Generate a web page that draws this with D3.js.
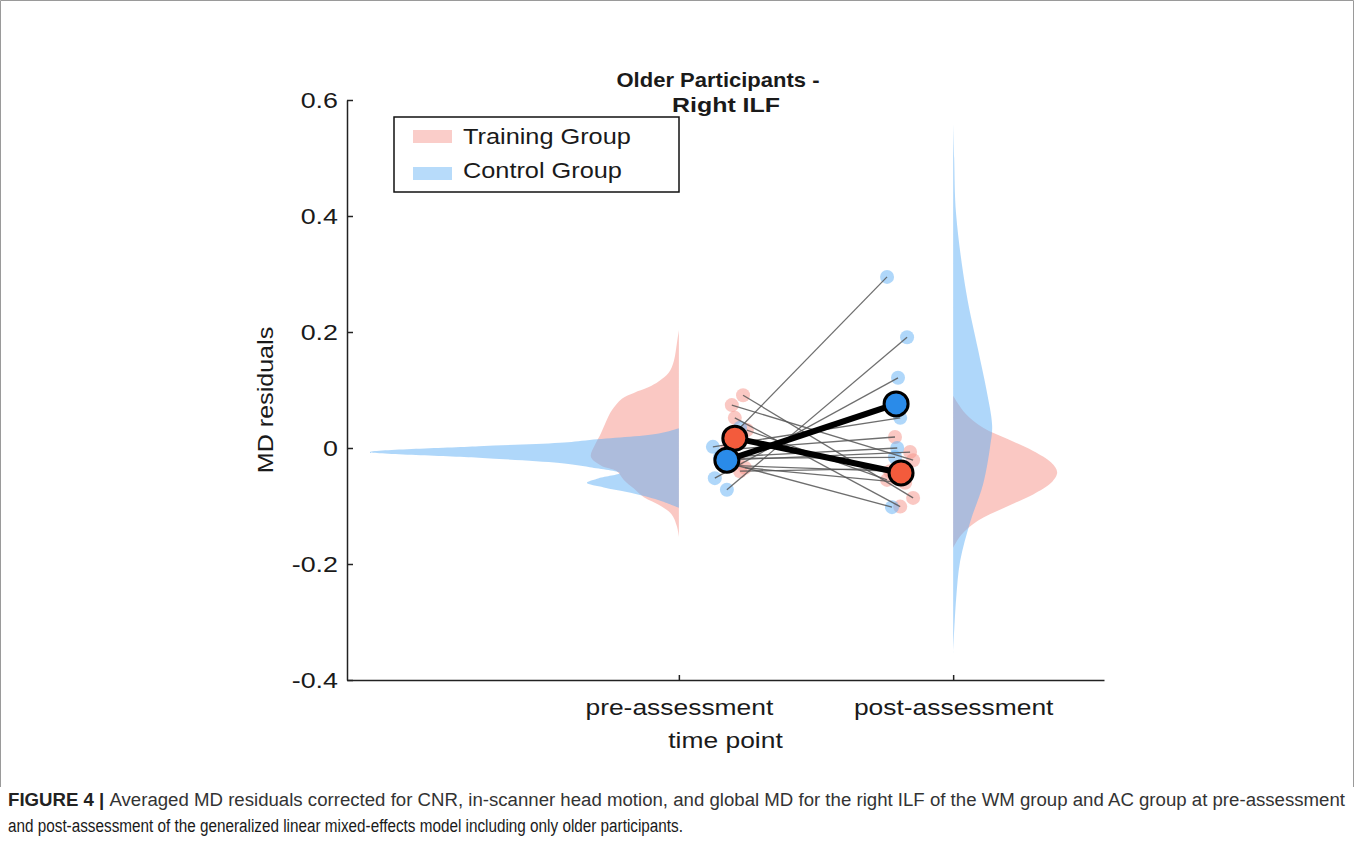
<!DOCTYPE html>
<html>
<head>
<meta charset="utf-8">
<script src="https://cdn.jsdelivr.net/npm/d3@7"></script>
<style>
  body { margin: 0; background: #fff; }
  svg { display: block; }
  text { font-family: "Liberation Sans", Arial, sans-serif; fill: #1a1a1a; }
</style>
</head>
<body>
<div id="chart"></div>
<script>
const W = 1355, H = 847;
const margin = { top: 100, right: 251, bottom: 167, left: 347 };

// time points on the x axis
const timeLabels = ["pre-assessment", "post-assessment"];
const timeX = [1, 2];

// individual subjects, training group (x = jittered position, y = MD residual)
const trainPreX  = [1.234, 1.193, 1.204, 1.248, 1.175, 1.241, 1.215, 1.186, 1.223];
const trainPre   = [0.091, 0.074, 0.052, 0.031, -0.003, -0.034, -0.020, -0.030, -0.040];
const trainPostX = [1.854, 1.854, 1.807, 1.759, 1.788, 1.825, 1.843, 1.770, 1.799];
const trainPost  = [-0.086, -0.021, -0.101, -0.055, 0.019, -0.060, -0.007, -0.040, -0.035];

// individual subjects, control group
const ctrlPreX  = [1.223, 1.175, 1.131, 1.124, 1.150, 1.179, 1.157];
const ctrlPre   = [0.035, -0.072, -0.052, 0.002, -0.016, -0.026, -0.018];
const ctrlPostX = [1.759, 1.832, 1.799, 1.807, 1.796, 1.777, 1.788];
const ctrlPost  = [0.295, 0.191, 0.121, 0.052, 0.000, -0.102, -0.016];

// group means [x, y]
const trainMean = [[1.204, 0.017], [1.810, -0.043]];
const ctrlMean  = [[1.175, -0.021], [1.792, 0.076]];

// half-violin density profiles [MD residual, density]
const trainPreDens = [[0.203,0],[0.180,0.02],[0.150,0.05],[0.130,0.10],[0.115,0.20],[0.105,0.30],
  [0.095,0.45],[0.085,0.57],[0.065,0.67],[0.045,0.73],[0.025,0.78],[0.005,0.84],[-0.015,0.88],
  [-0.030,0.78],[-0.040,0.62],[-0.055,0.55],[-0.070,0.45],[-0.085,0.35],[-0.100,0.18],
  [-0.115,0.07],[-0.135,0.02],[-0.153,0]];
const ctrlPreDens = [[0.034,0],[0.025,0.20],[0.014,0.89],[0.009,1.19],[0.003,2.00],[-0.007,3.09],
  [-0.017,2.00],[-0.026,1.19],[-0.033,0.89],[-0.043,0.59],[-0.052,0.80],[-0.060,0.92],
  [-0.068,0.75],[-0.076,0.52],[-0.090,0.20],[-0.103,0]];
const trainPostDens = [[0.090,0],[0.060,0.12],[0.035,0.30],[0.015,0.55],[-0.005,0.80],[-0.025,0.98],
  [-0.042,1.04],[-0.060,0.98],[-0.080,0.80],[-0.100,0.55],[-0.125,0.25],[-0.150,0.08],[-0.172,0]];
const ctrlPostDens = [[0.560,0],[0.500,0.01],[0.402,0.03],[0.269,0.13],[0.169,0.25],[0.103,0.33],
  [0.038,0.39],[0.003,0.37],[-0.062,0.30],[-0.128,0.17],[-0.195,0.07],[-0.260,0.03],[-0.353,0]];

const yTicks = [-0.4, -0.2, 0, 0.2, 0.4, 0.6];

const pink = "rgb(245,145,135)";
const blue = "rgb(95,175,245)";
const pinkMean = "#f35b3c";
const blueMean = "#2a8be9";

// the figure is stretched sideways, so widen text to match
function widen(sel, k) {
  sel.each(function () {
    const n = this.getComputedTextLength();
    d3.select(this).attr("textLength", n * k).attr("lengthAdjust", "spacingAndGlyphs");
  });
}

const svg = d3.select("#chart").append("svg")
  .attr("width", W).attr("height", H);

// figure frame
svg.append("path")
  .attr("d", `M0.5,787V0.5H1353.5V787`)
  .attr("fill", "none").attr("stroke", "#9a9a9a").attr("stroke-width", 1);

const x = d3.scaleLinear().domain([-0.21, 2.55]).range([margin.left, W - margin.right]);
const y = d3.scaleLinear().domain([-0.4, 0.6]).range([H - margin.bottom, margin.top]);
const dens = d3.scaleLinear().domain([0, 1]).range([0, 100]);

// half violins
function halfViolin(data, base, dir, color) {
  const area = d3.area()
    .y(d => y(d[0]))
    .x0(x(base))
    .x1(d => x(base) + dir * dens(d[1]))
    .curve(d3.curveCatmullRom);
  svg.append("path").datum(data)
    .attr("d", area)
    .attr("fill", color).attr("fill-opacity", 0.5);
}
halfViolin(trainPreDens, timeX[0], -1, pink);
halfViolin(ctrlPreDens, timeX[0], -1, blue);
halfViolin(trainPostDens, timeX[1], 1, pink);
halfViolin(ctrlPostDens, timeX[1], 1, blue);

// individual dots
function dots(xs, ys, color) {
  svg.append("g").selectAll("circle").data(ys).join("circle")
    .attr("cx", (d, i) => x(xs[i])).attr("cy", d => y(d))
    .attr("r", 7).attr("fill", color).attr("fill-opacity", 0.5);
}
dots(trainPreX, trainPre, pink);
dots(trainPostX, trainPost, pink);
dots(ctrlPreX, ctrlPre, blue);
dots(ctrlPostX, ctrlPost, blue);

// subject lines
function subjLines(x0, y0, x1, y1) {
  svg.append("g").selectAll("line").data(y0).join("line")
    .attr("x1", (d, i) => x(x0[i])).attr("y1", d => y(d))
    .attr("x2", (d, i) => x(x1[i])).attr("y2", (d, i) => y(y1[i]))
    .attr("stroke", "#555").attr("stroke-opacity", 0.85).attr("stroke-width", 1.3);
}
subjLines(trainPreX, trainPre, trainPostX, trainPost);
subjLines(ctrlPreX, ctrlPre, ctrlPostX, ctrlPost);

// mean lines and markers
const meanLine = d3.line().x(d => x(d[0])).y(d => y(d[1]));
[trainMean, ctrlMean].forEach(m => {
  svg.append("path").datum(m).attr("d", meanLine)
    .attr("fill", "none").attr("stroke", "#000").attr("stroke-width", 6);
});
[[trainMean, pinkMean], [ctrlMean, blueMean]].forEach(([m, c]) => {
  svg.append("g").selectAll("circle").data(m).join("circle")
    .attr("cx", d => x(d[0])).attr("cy", d => y(d[1]))
    .attr("r", 12).attr("fill", c)
    .attr("stroke", "#000").attr("stroke-width", 3);
});

// axes
const yAxis = svg.append("g")
  .attr("transform", `translate(${margin.left},0)`)
  .call(d3.axisLeft(y).tickValues(yTicks).tickSizeInner(-6).tickSizeOuter(0)
    .tickPadding(9).tickFormat(d => d === 0 ? "0" : d.toFixed(1)));
yAxis.select(".domain").attr("stroke", "#222").attr("stroke-width", 1.5);
yAxis.selectAll(".tick line").attr("stroke", "#222").attr("stroke-width", 1.5);
yAxis.selectAll(".tick text").style("font-size", "22px").attr("fill", "#1a1a1a").call(widen, 1.22);

const xAxis = svg.append("g")
  .attr("transform", `translate(0,${H - margin.bottom})`)
  .call(d3.axisBottom(x).tickValues(timeX).tickSizeInner(-5).tickSizeOuter(0)
    .tickPadding(19).tickFormat((d, i) => timeLabels[i]));
xAxis.select(".domain").attr("stroke", "#222").attr("stroke-width", 1.5);
xAxis.selectAll(".tick line").attr("stroke", "#222").attr("stroke-width", 1.5);
xAxis.selectAll(".tick text").style("font-size", "22px").attr("fill", "#1a1a1a").call(widen, 1.2);

// axis labels
const cx = (x.range()[0] + x.range()[1]) / 2;
svg.append("text").attr("x", cx).attr("y", 748)
  .attr("text-anchor", "middle").style("font-size", "22px").text("time point")
  .call(widen, 1.2);
svg.append("text")
  .attr("transform", `translate(273,400) rotate(-90)`)
  .attr("text-anchor", "middle").style("font-size", "22px").text("MD residuals")
  .call(widen, 1.14);

// title
svg.append("text").attr("x", 718).attr("y", 87)
  .attr("text-anchor", "middle").style("font-size", "21px").style("font-weight", "bold")
  .attr("textLength", 203).attr("lengthAdjust", "spacingAndGlyphs")
  .text("Older Participants -");
svg.append("text").attr("x", 726).attr("y", 112)
  .attr("text-anchor", "middle").style("font-size", "21px").style("font-weight", "bold")
  .attr("textLength", 108).attr("lengthAdjust", "spacingAndGlyphs")
  .text("Right ILF");

// legend
const leg = svg.append("g");
leg.append("rect").attr("x", 394).attr("y", 117).attr("width", 285).attr("height", 75)
  .attr("fill", "#fff").attr("stroke", "#111").attr("stroke-width", 1.5);
[["Training Group", pink], ["Control Group", blue]].forEach(([t, c], i) => {
  leg.append("rect").attr("x", 413).attr("y", 130 + i * 37).attr("width", 39).attr("height", 13)
    .attr("fill", c).attr("fill-opacity", 0.45);
  leg.append("text").attr("x", 463).attr("y", 144 + i * 34)
    .style("font-size", "22px").text(t).call(widen, 1.15);
});

// caption
const cap1 = svg.append("text").attr("x", 8).attr("y", 806)
  .attr("textLength", 1337).attr("lengthAdjust", "spacingAndGlyphs")
  .style("font-family", "'Liberation Sans Narrow', 'Liberation Sans', sans-serif")
  .style("font-size", "18px");
cap1.append("tspan").style("font-weight", "bold").attr("fill", "#222").text("FIGURE 4 | ");
cap1.append("tspan").attr("fill", "#333")
  .text("Averaged MD residuals corrected for CNR, in-scanner head motion, and global MD for the right ILF of the WM group and AC group at pre-assessment");
svg.append("text").attr("x", 8).attr("y", 832)
  .attr("textLength", 675).attr("lengthAdjust", "spacingAndGlyphs")
  .style("font-family", "'Liberation Sans Narrow', 'Liberation Sans', sans-serif")
  .style("font-size", "18px").attr("fill", "#333")
  .text("and post-assessment of the generalized linear mixed-effects model including only older participants.");
</script>
</body>
</html>
